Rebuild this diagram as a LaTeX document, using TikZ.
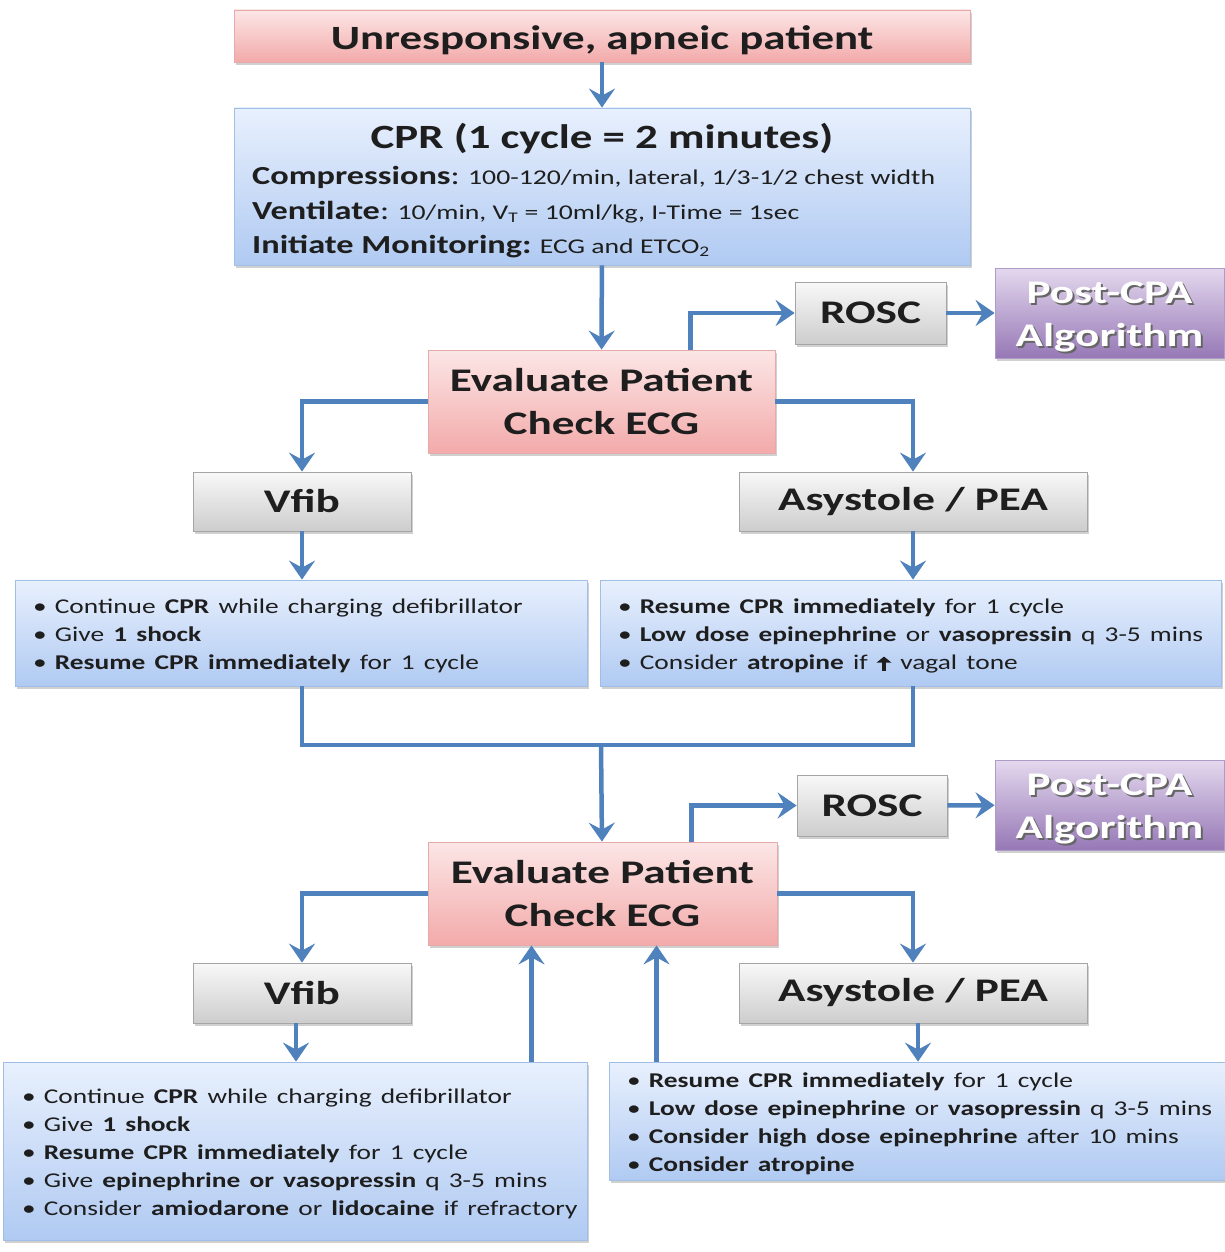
\documentclass[tikz,border=0pt]{standalone}
\usepackage{fontspec}
\usepackage{graphicx}
\setmainfont{Carlito}
\usetikzlibrary{arrows.meta,shadows,calc}
\definecolor{arrowblue}{RGB}{79,129,189}
\definecolor{pinktop}{RGB}{252,230,230}
\definecolor{pinkbot}{RGB}{243,170,170}
\definecolor{pinkedge}{RGB}{230,170,170}
\definecolor{bluetop}{RGB}{232,240,253}
\definecolor{bluebot}{RGB}{176,202,242}
\definecolor{blueedge}{RGB}{160,190,230}
\definecolor{graytop}{RGB}{248,248,248}
\definecolor{graybot}{RGB}{205,205,205}
\definecolor{grayedge}{RGB}{165,165,165}
\definecolor{purptop}{RGB}{228,216,238}
\definecolor{purpbot}{RGB}{150,120,182}
\definecolor{purpedge}{RGB}{175,155,200}
\definecolor{txt}{RGB}{30,30,30}
\newcommand{\sx}[1]{\scalebox{1.32}[1]{#1}}
\newcommand{\sxc}[1]{\scalebox{1.305}[1]{#1}}
\newcommand{\sxb}[1]{\scalebox{1.37}[1]{#1}}
\newcommand{\bl}[1]{\sxc{•\hspace{0.3em}#1}}
\newcommand{\low}[1]{\raisebox{-3pt}[\height][\depth]{#1}}
\newcommand{\uparr}{\tikz[baseline=0pt]\draw[line width=2.6pt, -{Triangle[length=6pt,width=11pt]}] (0pt,-1pt) -- (0pt,13pt);}
\begin{document}
\begin{tikzpicture}[x=1pt,y=-1pt,
  boxbase/.style={draw, line width=0.8pt, inner sep=0pt, text=txt,
    drop shadow={shadow xshift=2pt, shadow yshift=-3pt, opacity=0.3, fill=black!60}},
  pinkbox/.style={boxbase, draw=pinkedge, top color=pinktop, bottom color=pinkbot},
  bluebox/.style={boxbase, draw=blueedge, top color=bluetop, bottom color=bluebot},
  graybox/.style={boxbase, draw=grayedge, top color=graytop, bottom color=graybot},
  purpbox/.style={boxbase, draw=purpedge, top color=purptop, bottom color=purpbot},
  bigtxt/.style={font=\fontsize{33}{43}\selectfont\bfseries},
  bultxt/.style={font=\fontsize{21}{28}\selectfont, align=left, inner ysep=0pt},
  cprtxt/.style={inner sep=0pt, anchor=base west, text=txt},
  conn/.style={draw=arrowblue, line width=4.5pt},
  arr/.style={conn, -{Stealth[length=19pt,width=26pt,inset=7pt]}},
  posttxt/.style={font=\fontsize{33}{43}\selectfont\bfseries, align=center, inner sep=0pt}
]
\useasboundingbox (0,0) rectangle (1225,1252);
\fill[white] (0,0) rectangle (1225,1252);

% top
\node[pinkbox, minimum width=736pt, minimum height=52pt, font=\fontsize{34}{40}\selectfont\bfseries] (top) at (602,36) {\raisebox{-4pt}[\height][\depth]{\sx{Unresponsive, apneic patient}}};

% CPR box
\node[bluebox, minimum width=736pt, minimum height=157pt] (cpr) at (602,186.5) {};
\node[inner sep=0pt, text=txt, font=\fontsize{34}{40}\selectfont\bfseries] (cprtitle) at (602,139) {\sx{CPR (1 cycle = 2 minutes)}};
\node[cprtxt] (cpr1) at (252,185) {\sx{\fontsize{26}{28}\selectfont\bfseries Compressions\mdseries:\fontsize{21}{28}\selectfont{} 100-120/min, lateral, 1/3-1/2 chest width}};
\node[cprtxt] (cpr2) at (252,219) {\sx{\fontsize{26}{28}\selectfont\bfseries Ventilate\mdseries:\fontsize{21}{28}\selectfont{} 10/min, V\textsubscript{T} = 10ml/kg, I-Time = 1sec}};
\node[cprtxt] (cpr3) at (252,253) {\sx{\fontsize{26}{28}\selectfont\bfseries Initiate Monitoring:\mdseries\fontsize{21}{28}\selectfont{} ECG and ETCO\textsubscript{2}}};

% first evaluation block
\node[pinkbox, minimum width=347pt, minimum height=103pt, bigtxt, align=center] (eval1) at (601.5,401.5) {\sxb{Evaluate Patient}\\\sxb{Check ECG}};
\node[graybox, minimum width=151pt, minimum height=62pt, bigtxt] (rosc1) at (870.5,313) {\sxb{ROSC}};
\node[purpbox, minimum width=229pt, minimum height=90pt] (post1) at (1109.5,313) {};
\node[posttxt, text=black!60] (post1s) at (1111.5,318.5) {\sxb{Post-CPA}\\\sxb{Algorithm}};
\node[posttxt, text=white] (post1t) at (1109.5,316.5) {\sxb{Post-CPA}\\\sxb{Algorithm}};
\node[graybox, minimum width=218pt, minimum height=59pt, bigtxt] (vfib1) at (302,501.5) {\sxb{Vfib}};
\node[graybox, minimum width=348pt, minimum height=59pt, bigtxt] (asys1) at (913,501.5) {\sxb{Asystole / PEA}};

\node[bluebox, bultxt, text width=536pt, inner xsep=18pt, minimum height=106pt] (bl1) at (301,633)
 {\low{\parbox{536pt}{\bl{Continue \textbf{CPR} while charging defibrillator}\\
  \bl{Give \textbf{1 shock}}\\
  \bl{\textbf{Resume CPR immediately} for 1 cycle}}}};
\node[bluebox, bultxt, text width=585pt, inner xsep=18pt, minimum height=106pt] (br1) at (910.5,633)
 {\low{\parbox{585pt}{\bl{\textbf{Resume CPR immediately} for 1 cycle}\\
  \bl{\textbf{Low dose epinephrine} or \textbf{vasopressin} q 3-5 mins}\\
  \bl{Consider \textbf{atropine} if \uparr{} vagal tone}}}};

\coordinate (m) at (601,745);

% second evaluation block
\node[pinkbox, minimum width=349pt, minimum height=103pt, bigtxt, align=center] (eval2) at (602.5,893.5) {\sxb{Evaluate Patient}\\\sxb{Check ECG}};
\node[graybox, minimum width=150pt, minimum height=61pt, bigtxt] (rosc2) at (872,805.5) {\sxb{ROSC}};
\node[purpbox, minimum width=229pt, minimum height=90pt] (post2) at (1109.5,805) {};
\node[posttxt, text=black!60] (post2s) at (1111.5,810.5) {\sxb{Post-CPA}\\\sxb{Algorithm}};
\node[posttxt, text=white] (post2t) at (1109.5,808.5) {\sxb{Post-CPA}\\\sxb{Algorithm}};
\node[graybox, minimum width=218pt, minimum height=60pt, bigtxt] (vfib2) at (302,993) {\sxb{Vfib}};
\node[graybox, minimum width=348pt, minimum height=60pt, bigtxt] (asys2) at (913,993) {\sxb{Asystole / PEA}};

\node[bluebox, bultxt, text width=546pt, inner xsep=19pt, minimum height=178pt] (bl2) at (295,1151)
 {\low{\parbox{546pt}{\bl{Continue \textbf{CPR} while charging defibrillator}\\
  \bl{Give \textbf{1 shock}}\\
  \bl{\textbf{Resume CPR immediately} for 1 cycle}\\
  \bl{Give \textbf{epinephrine or vasopressin} q 3-5 mins}\\
  \bl{Consider \textbf{amiodarone} or \textbf{lidocaine} if refractory}}}};
\node[bluebox, bultxt, text width=580pt, inner xsep=18pt, minimum height=118pt] (br2) at (917,1121)
 {\low{\parbox{580pt}{\bl{\textbf{Resume CPR immediately} for 1 cycle}\\
  \bl{\textbf{Low dose epinephrine} or \textbf{vasopressin} q 3-5 mins}\\
  \bl{\textbf{Consider high dose epinephrine} after 10 mins}\\
  \bl{\textbf{Consider atropine}}}}};

% connectors
\draw[arr] (top) -- (cpr);
\draw[arr] (cpr) -- (eval1);
\draw[arr] ([xshift=89pt]eval1.north) |- (rosc1);
\draw[arr] (rosc1) -- (post1);
\draw[arr] (eval1.west) -| (vfib1);
\draw[arr] (eval1.east) -| (asys1);
\draw[arr] (vfib1) -- (vfib1 |- bl1.north);
\draw[arr] (asys1) -- (asys1 |- br1.north);
\draw[conn, line join=miter] (vfib1 |- bl1.south) |- (m) -| (asys1 |- br1.south);
\draw[arr] (m) -- (eval2);

\draw[arr] ([xshift=89pt]eval2.north) |- (rosc2);
\draw[arr] (rosc2) -- (post2);
\draw[arr] (eval2.west) -| (vfib2);
\draw[arr] (eval2.east) -| (asys2);
\draw[arr] ([xshift=-6pt]vfib2.south) -- ([xshift=-6pt]vfib2.south |- bl2.north);
\draw[arr] ([xshift=5pt]asys2.south) -- ([xshift=5pt]asys2.south |- br2.north);
\draw[arr] ([xshift=-71pt]eval2.south |- bl2.north) -- ([xshift=-71pt]eval2.south);
\draw[arr] ([xshift=54pt]eval2.south |- br2.north) -- ([xshift=54pt]eval2.south);
\end{tikzpicture}
\end{document}
